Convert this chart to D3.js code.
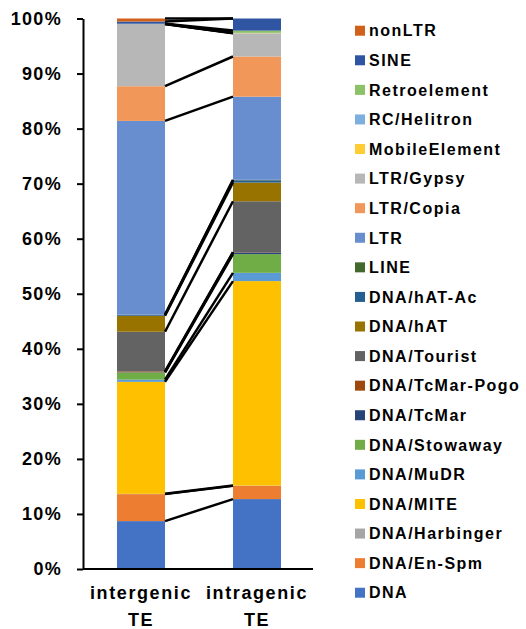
<!DOCTYPE html>
<html>
<head>
<meta charset="utf-8">
<script src="https://cdn.jsdelivr.net/npm/d3@7"></script>
<style>
  body { margin: 0; background: #fff; }
  text { font-family: "Liberation Sans", Arial, sans-serif; font-weight: bold; fill: #000; }
</style>
</head>
<body>
<div id="chart"></div>
<script>
// #####################################################
// Data (percent of TEs, stacked bottom to top)
//
var categories = ["intergenic TE", "intragenic TE"];

var families = ["DNA", "DNA/En-Spm", "DNA/Harbinger", "DNA/MITE", "DNA/MuDR",
  "DNA/Stowaway", "DNA/TcMar", "DNA/TcMar-Pogo", "DNA/Tourist", "DNA/hAT",
  "DNA/hAT-Ac", "LINE", "LTR", "LTR/Copia", "LTR/Gypsy", "MobileElement",
  "RC/Helitron", "Retroelement", "SINE", "nonLTR"];

var intergenic = [8.7, 4.9, 0.05, 20.35, 0.4, 1.3, 0.05, 0.15, 7.2, 2.9,
  0.15, 0.05, 35.2, 6.3, 11.3, 0, 0.03, 0.02, 0.4, 0.55];

var intragenic = [12.7, 2.4, 0.05, 37.15, 1.5, 3.4, 0.3, 0.05, 9.25, 3.4,
  0.4, 0.1, 15.1, 7.3, 4.2, 0.05, 0.05, 0.4, 2.2, 0];

var colors = ["#4472C4", "#ED7D31", "#A5A5A5", "#FFC000", "#5B9BD5",
  "#70AD47", "#264478", "#9E480E", "#636363", "#997300",
  "#255E91", "#43682B", "#698ED0", "#F1975A", "#B7B7B7", "#FFCD33",
  "#7CAFDD", "#8CC168", "#2F55A2", "#D0601A"];

var yTicks = [0, 10, 20, 30, 40, 50, 60, 70, 80, 90, 100];

// #####################################################
// Build the stack
//
var rows = categories.map(function(c, ci) {
  var row = {category: c};
  var vals = ci == 0 ? intergenic : intragenic;
  families.forEach(function(f, i) { row[f] = vals[i]; });
  return row;
});

var stacked = d3.stack().keys(families)(rows);

// #####################################################
// Chart
//
var width = 526, height = 629;

var svg = d3.select("#chart").append("svg")
    .attr("width", width)
    .attr("height", height);

var x = d3.scaleBand()
    .domain(categories)
    .range([83, 315])
    .paddingInner(0.586)
    .paddingOuter(0.293);

var y = d3.scaleLinear()
    .domain([0, 100])
    .range([569, 18.5]);

// bars
var layer = svg.selectAll("g.layer")
    .data(stacked)
    .enter().append("g")
      .attr("class", "layer")
      .style("fill", function(d, i) { return colors[i]; });

layer.selectAll("rect")
    .data(function(d) { return d; })
    .enter().append("rect")
      .attr("x", function(d) { return x(d.data.category); })
      .attr("y", function(d) { return y(d[1]); })
      .attr("width", x.bandwidth())
      .attr("height", function(d) { return y(d[0]) - y(d[1]); });

// series lines between the two bars
svg.selectAll("line.series")
    .data(stacked)
    .enter().append("line")
      .attr("class", "series")
      .attr("x1", x(categories[0]) + x.bandwidth())
      .attr("y1", function(d) { return y(d[0][1]); })
      .attr("x2", x(categories[1]))
      .attr("y2", function(d) { return y(d[1][1]); })
      .attr("stroke", "#000")
      .attr("stroke-width", 2.5);

// Y axis
var yAxis = svg.append("g")
    .attr("transform", "translate(83,0)")
    .call(d3.axisLeft(y)
      .tickValues(yTicks)
      .tickFormat(function(d) { return d + "%"; })
      .tickSize(6)
      .tickSizeOuter(0)
      .tickPadding(15));

yAxis.select(".domain").attr("stroke", "#000").attr("stroke-width", 2);
yAxis.selectAll(".tick line").attr("stroke", "#000").attr("stroke-width", 2);
yAxis.selectAll(".tick text")
    .style("font-family", "'Liberation Sans', Arial, sans-serif")
    .style("font-weight", "bold")
    .style("font-size", "18px")
    .style("letter-spacing", "1.3px")
    .attr("fill", "#000");

// X axis
svg.append("line")
    .attr("x1", 83).attr("x2", 313)
    .attr("y1", y(0)).attr("y2", y(0))
    .attr("stroke", "#000")
    .attr("stroke-width", 2);

var xLab = svg.selectAll("text.xlab")
    .data(categories)
    .enter().append("text")
      .attr("class", "xlab")
      .attr("text-anchor", "middle")
      .style("font-size", "18px")
      .style("letter-spacing", "1.6px")
      .attr("transform", function(d) { return "translate(" + (x(d) + x.bandwidth() / 2) + ",0)"; });

xLab.append("tspan")
    .attr("x", 0).attr("y", 599)
    .text(function(d) { return d.split(" ")[0]; });
xLab.append("tspan")
    .attr("x", 0).attr("y", 625.5)
    .text(function(d) { return d.split(" ")[1]; });

// Legend (top = last series)
var legendData = families.map(function(f, i) { return {name: f, color: colors[i]}; }).reverse();

var legend = svg.selectAll("g.legend")
    .data(legendData)
    .enter().append("g")
      .attr("class", "legend")
      .attr("transform", function(d, i) { return "translate(355," + (30.7 + i * 29.58) + ")"; });

legend.append("rect")
    .attr("x", 0).attr("y", -5)
    .attr("width", 10).attr("height", 10)
    .style("fill", function(d) { return d.color; });

legend.append("text")
    .attr("x", 14)
    .attr("y", 0)
    .attr("dy", "0.36em")
    .style("font-size", "16px")
    .style("letter-spacing", "1.5px")
    .text(function(d) { return d.name; });
</script>
</body>
</html>
